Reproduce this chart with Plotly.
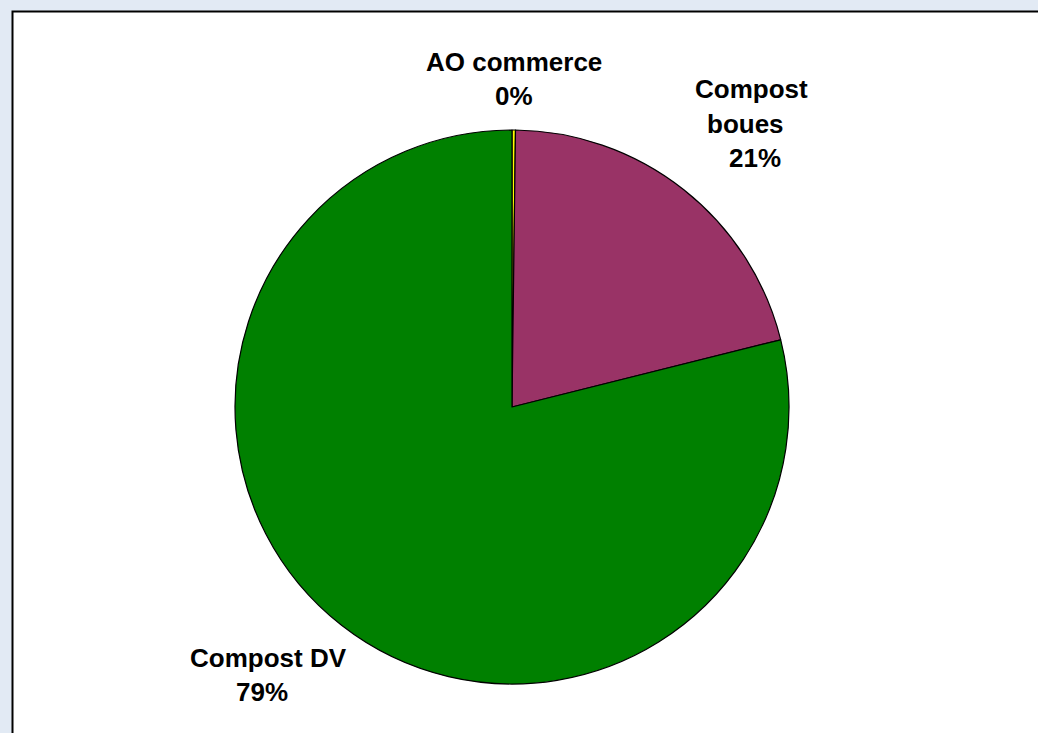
import plotly.graph_objects as go

labels = ["AO commerce", "Compost boues", "Compost DV"]
values = [0.2, 20.9, 78.9]
colors = ["#FFFF00", "#993366", "#008000"]

W, H = 1038, 733

# label line layouts (pixel positions of each text line centre)
label_lines = [
    [("AO commerce", 514, 62)],
    [("Compost", 751, 89), ("boues", 745, 124)],
    [("Compost DV", 269, 658)],
]
pct_pos = [(514, 96), (755, 158), (262, 692)]

total = sum(values)
pcts = [f"{round(v / total * 100):.0f}%" for v in values]

cx, cy, r = 512, 407, 277

fig = go.Figure(go.Pie(
    labels=labels,
    values=values,
    marker=dict(colors=colors, line=dict(color="black", width=1.2)),
    sort=False,
    direction="clockwise",
    rotation=0,
    textinfo="none",
    hoverinfo="label+percent",
    showlegend=False,
    domain=dict(x=[(cx - r) / W, (cx + r) / W], y=[1 - (cy + r) / H, 1 - (cy - r) / H]),
))

font = dict(family="Liberation Sans, Arial, sans-serif", size=26, color="black")
annotations = []
for lines, (px_, py_), pct in zip(label_lines, pct_pos, pcts):
    for txt, x, y in lines:
        annotations.append(dict(x=x / W, y=1 - y / H, xref="paper", yref="paper",
                                text=f"<b>{txt}</b>", showarrow=False, font=font,
                                xanchor="center", yanchor="middle"))
    annotations.append(dict(x=px_ / W, y=1 - py_ / H, xref="paper", yref="paper",
                            text=f"<b>{pct}</b>", showarrow=False, font=font,
                            xanchor="center", yanchor="middle"))

fig.update_layout(
    width=W, height=H,
    margin=dict(l=0, r=0, t=0, b=0),
    paper_bgcolor="#E2EAF4",
    plot_bgcolor="#E2EAF4",
    annotations=annotations,
    shapes=[dict(type="rect", xref="paper", yref="paper",
                 x0=12.5 / W, x1=1.05, y0=-0.05, y1=1 - 11.5 / H,
                 fillcolor="white", line=dict(color="black", width=2), layer="below")],
)

fig.write_html("out.html")
